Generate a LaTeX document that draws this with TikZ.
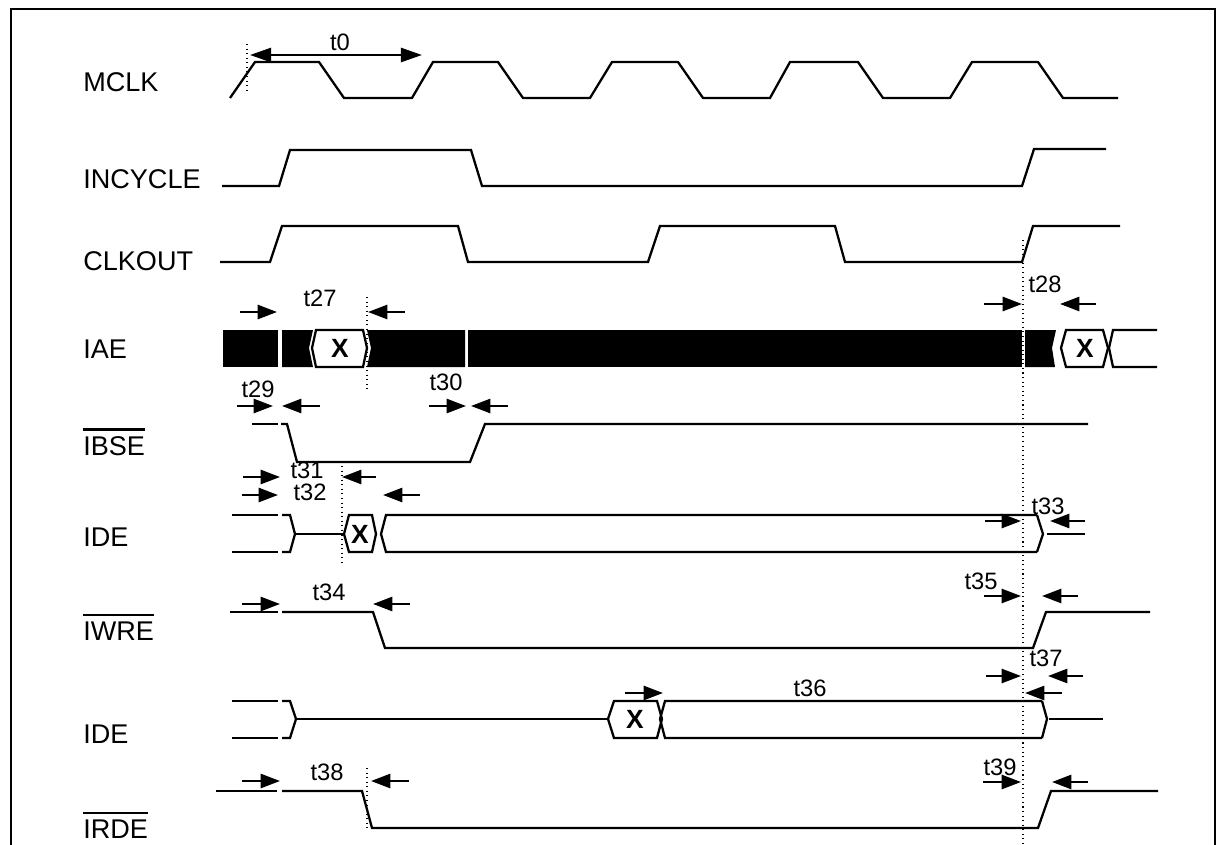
\documentclass[tikz,border=0pt]{standalone}
\usepackage{fontspec}
\setmainfont{Liberation Sans}
\usetikzlibrary{arrows.meta}

\begin{document}
\begin{tikzpicture}[x=0.02cm, y=-0.02cm,
  sig/.style={line width=1.3pt},
  tick/.style={dotted, line width=0.6pt},
  tarr/.style={-{Triangle[length=11pt,width=8pt]}, line width=1.4pt},
  lbl/.style={anchor=base west, inner sep=0pt, font=\fontsize{15.4}{18}\selectfont},
  tlbl/.style={inner sep=0pt, font=\fontsize{13.5}{16}\selectfont},
  xlbl/.style={inner sep=0pt, font=\fontsize{15}{18}\selectfont\bfseries}]

\useasboundingbox (0,0) rectangle (1224,845);

% frame
\draw[line width=1.6pt] (11,845) -- (11,9) -- (1215,9) -- (1215,845);

% signal names
\node[lbl] (mclk) at (83,91) {MCLK};
\node[lbl] (incycle) at (83,188) {INCYCLE};
\node[lbl] (clkout) at (83,270) {CLKOUT};
\node[lbl] (iae) at (83,358) {IAE};
\node[lbl] (ibse) at (83,455) {IBSE};
\node[lbl] (ide) at (83,546) {IDE};
\node[lbl] (iwre) at (83,640) {IWRE};
\node[lbl] (idr) at (83,743) {IDE};
\node[lbl] (irde) at (83,838) {IRDE};

\draw[sig] ([yshift=3.5pt]ibse.north west) to ([yshift=3.5pt]ibse.north east);
\draw[sig] ([yshift=3.5pt]iwre.north west) to ([yshift=3.5pt]iwre.north east);
\draw[sig] ([yshift=3.5pt]irde.north west) to ([yshift=3.5pt]irde.north east);

% MCLK
\draw[sig] (230,98) -- (255,62) -- (319,62) -- (344,98) -- (412,98) -- (433,62)
  -- (498,62) -- (523,98) -- (590,98) -- (612,62) -- (678,62) -- (703,98)
  -- (770,98) -- (790,62) -- (858,62) -- (883,98) -- (950,98) -- (972,62)
  -- (1038,62) -- (1063,98) -- (1118,98);

% INCYCLE
\draw[sig] (222,186) -- (279,186) -- (290,150) -- (471,150) -- (482,186)
  -- (1022,186) -- (1034,149) -- (1106,149);

% CLKOUT
\draw[sig] (220,262) -- (270,262) -- (282,226) -- (458,226) -- (468,262)
  -- (648,262) -- (660,226) -- (835,226) -- (845,262) -- (1022,262)
  -- (1033,226) -- (1120,226);

% IAE
\fill (223,330) rectangle (278,367);
\fill (282,330) -- (313,330) -- (309,348) -- (313,367) -- (282,367) -- cycle;
\draw[sig, fill=white] (312,348) -- (316,330) -- (363,330) -- (367,348)
  -- (363,367) -- (316,367) -- cycle;
\node[xlbl] (x1) at (340,348) {X};
\fill (367,330) -- (465,330) -- (465,367) -- (367,367) -- (371,348) -- cycle;
\fill (468,330) rectangle (1022,367);
\fill (1025,330) -- (1056,330) -- (1052,348) -- (1055,367) -- (1025,367) -- cycle;
\draw[sig, fill=white] (1061,348) -- (1066,330) -- (1103,330) -- (1108,348)
  -- (1103,367) -- (1066,367) -- cycle;
\node[xlbl] (x2) at (1085,348) {X};
\draw[sig] (1157,330) -- (1113,330) -- (1109,348) -- (1113,367) -- (1157,367);

% IBSE
\draw[sig] (252,424) -- (278,424);
\draw[sig] (281,424) -- (287,424) -- (297,462) -- (470,462) -- (485,424) -- (1088,424);

% IDE (write)
\draw[sig] (232,515) -- (278,515);
\draw[sig] (232,552) -- (278,552);
\draw[sig] (282,515) -- (290,515) -- (295,534) -- (290,552) -- (282,552);
\draw[sig] (295,534) -- (344,534);
\draw[sig] (344,534) -- (349,515) -- (372,515) -- (376,534) -- (372,552)
  -- (349,552) -- cycle;
\node[xlbl] (x3) at (360,534) {X};
\draw[sig] (1037,515) -- (386,515) -- (381,534) -- (386,552) -- (1037,552);
\draw[sig] (1037,515) -- (1043,534) -- (1037,552);
\draw[sig] (1047,534) -- (1085,534);

% IWRE
\draw[sig] (230,612) -- (278,612);
\draw[sig] (282,612) -- (373,612) -- (385,648) -- (1033,648) -- (1046,612) -- (1150,612);

% IDE (read)
\draw[sig] (232,701) -- (278,701);
\draw[sig] (232,738) -- (278,738);
\draw[sig] (282,701) -- (290,701) -- (296,719) -- (290,738) -- (282,738);
\draw[sig] (296,719) -- (608,719);
\draw[sig] (608,719) -- (614,701) -- (657,701) -- (662,719) -- (657,738)
  -- (614,738) -- cycle;
\node[xlbl] (x4) at (635,719) {X};
\draw[sig] (1042,701) -- (665,701) -- (660,719) -- (665,738) -- (1042,738);
\draw[sig] (1042,701) -- (1047,719) -- (1042,738);
\draw[sig] (1049,719) -- (1103,719);

% IRDE
\draw[sig] (216,791) -- (277,791);
\draw[sig] (282,791) -- (362,791) -- (372,828) -- (1038,828) -- (1051,791) -- (1158,791);

% reference lines
\draw (247,44) to (247,92)[tick];
\draw (367,297) to (367,390)[tick];
\draw (342,466) to (342,565)[tick];
\draw (367,768) to (367,830)[tick];
\draw (1023,240) to (1023,845)[tick];

% timing marks
\draw[tarr, {Triangle[length=12pt,width=8pt]}-{Triangle[length=12pt,width=8pt]}] (250,55) to (422,55);
\node[tlbl] (t0) at (340,42) {t0};

\draw[tarr] (240,312) to (277,312);
\draw[tarr] (405,312) to (368,312);
\node[tlbl] (t27) at (320,298) {t27};

\draw[tarr] (984,304) to (1022,304);
\draw[tarr] (1096,304) to (1060,304);
\node[tlbl] (t28) at (1045,284) {t28};

\draw[tarr] (237,406) to (273,406);
\draw[tarr] (320,406) to (282,406);
\node[tlbl] (t29) at (258,389) {t29};

\draw[tarr] (429,406) to (466,406);
\draw[tarr] (508,406) to (471,406);
\node[tlbl] (t30) at (446,382) {t30};

\draw[tarr] (243,477) to (280,477);
\draw[tarr] (376,477) to (342,477);
\node[tlbl] (t31) at (307,470) {t31};

\draw[tarr] (242,495) to (278,495);
\draw[tarr] (420,495) to (383,495);
\node[tlbl] (t32) at (310,492) {t32};

\draw[tarr] (985,521) to (1021,521);
\draw[tarr] (1085,521) to (1050,521);
\node[tlbl] (t33) at (1048,506) {t33};

\draw[tarr] (242,604) to (280,604);
\draw[tarr] (410,604) to (373,604);
\node[tlbl] (t34) at (329,592) {t34};

\draw[tarr] (984,596) to (1021,596);
\draw[tarr] (1078,596) to (1042,596);
\node[tlbl] (t35) at (981,581) {t35};

\draw[tarr] (625,693) to (663,693);
\draw[tarr] (1062,693) to (1025,693);
\node[tlbl] (t36) at (810,688) {t36};

\draw[tarr] (986,676) to (1021,676);
\draw[tarr] (1083,676) to (1048,676);
\node[tlbl] (t37) at (1046,658) {t37};

\draw[tarr] (242,781) to (280,781);
\draw[tarr] (409,781) to (371,781);
\node[tlbl] (t38) at (327,772) {t38};

\draw[tarr] (983,782) to (1021,782);
\draw[tarr] (1088,782) to (1052,782);
\node[tlbl] (t39) at (1000,767) {t39};

\end{tikzpicture}
\end{document}
